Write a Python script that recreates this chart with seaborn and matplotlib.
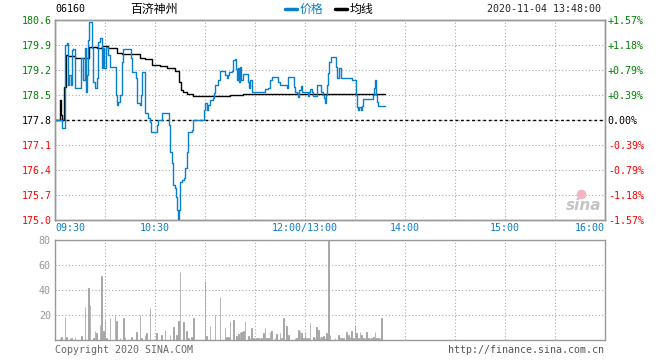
import numpy as np
import pandas as pd
import seaborn as sns
import matplotlib.pyplot as plt
from matplotlib.lines import Line2D

# ---------------- datos (minutos de negociación desde 09:30) ----------------
price_t = [0, 4.4, 6, 7, 7.6, 8, 8.6, 9.4, 10, 11, 12, 15.6, 17, 18, 18.4, 19.4, 20, 20.6,
           22, 22.6, 24, 25, 26, 27, 28, 29, 29.6, 30.4, 31.6, 33, 36.6, 37.4, 38, 39, 40,
           40.6, 45.6, 46.4, 48.6, 49, 51, 51.6, 52.4, 54, 56, 57, 57.4, 61, 61.6, 64.4,
           68.4, 69, 70, 70.6, 71, 72, 72.6, 73.4, 74, 74.4, 75, 76, 77.4, 78, 79, 79.6,
           82, 82.6, 89.4, 90, 91, 92, 93, 95, 95.4, 96, 98, 99, 102, 103, 104, 104.6, 106,
           106.6, 108, 108.6, 109.4, 110, 110.6, 111, 111.6, 112.6, 115.6, 116.6, 117, 118,
           126, 128, 129, 130, 134, 135, 139, 139.6, 143.4, 144, 145, 146, 146.6, 147.4,
           148, 151.6, 152.4, 153, 154, 155, 157, 159.4, 160.6, 161.4, 162, 162.6, 163.4,
           164, 164.6, 165.4, 168.6, 169, 170.6, 171.4, 178, 180.6, 181.4, 182, 182.6,
           183.4, 184, 185, 191, 191.6, 192.2, 192.6, 193.4, 194, 198]
price_v = [177.80, 177.58, 179.90, 179.96, 179.06, 178.78, 179.06, 178.78, 179.76, 179.79,
           178.70, 179.54, 178.92, 179.82, 178.58, 179.06, 180.04, 180.54, 179.82, 178.86,
           178.70, 178.98, 179.98, 180.10, 179.26, 179.82, 179.26, 179.84, 179.62, 179.28,
           178.50, 178.22, 178.30, 178.50, 179.42, 179.79, 179.54, 179.14, 178.98, 178.28,
           178.22, 178.50, 179.14, 178.00, 177.86, 177.75, 177.46, 177.66, 177.80, 178.00,
           177.66, 176.90, 176.60, 176.40, 175.98, 175.90, 175.64, 175.28, 175.00, 175.28,
           176.06, 176.12, 176.18, 176.46, 176.90, 177.46, 177.52, 177.80, 178.08, 178.28,
           178.08, 178.22, 178.36, 178.42, 178.56, 178.78, 178.92, 179.17, 179.06, 178.98,
           179.06, 179.14, 179.17, 179.48, 179.51, 179.23, 178.92, 179.26, 178.86, 179.28,
           178.92, 179.09, 178.86, 178.70, 178.92, 178.58, 178.67, 178.70, 178.92, 179.00,
           178.86, 178.78, 178.70, 179.00, 178.72, 178.58, 178.55, 178.44, 178.64, 178.75,
           178.58, 178.47, 178.58, 178.67, 178.58, 178.47, 178.78, 178.58, 178.50, 178.42,
           178.28, 178.50, 178.78, 179.12, 179.42, 179.56, 179.28, 178.98, 179.26, 178.98,
           178.92, 178.50, 178.16, 178.08, 178.16, 178.08, 178.19, 178.39, 178.50, 178.70,
           178.92, 178.50, 178.30, 178.19, 178.19]

avg_t = [0, 3, 3.6, 4.2, 5.6, 6.6, 8, 12, 20, 20.4, 25, 28, 32, 37, 40, 51, 54, 58, 63, 67,
         72, 74.6, 75.4, 77, 79, 83, 105, 113, 198]
avg_v = [177.80, 178.36, 177.95, 177.80, 178.72, 179.62, 179.59, 179.54, 179.54, 179.84,
         179.81, 179.87, 179.81, 179.67, 179.64, 179.53, 179.50, 179.34, 179.32, 179.26,
         179.17, 178.86, 178.64, 178.58, 178.53, 178.47, 178.50, 178.53, 178.53]

vol_t = [3, 4, 6, 7, 9, 10, 12, 16, 18, 20, 21, 23, 24, 25, 27, 28, 29, 30, 31, 33, 36, 37,
         39, 41, 42, 46, 49, 51, 52, 54, 55, 57, 61, 64, 66, 69, 71, 73, 74, 75, 77, 79, 80,
         82, 83, 90, 91, 93, 96, 99, 102, 103, 104, 105, 107, 109, 110, 111, 112, 113, 114,
         116, 117, 118, 119, 120, 121, 122, 123, 124, 125, 126, 127, 128, 129, 130, 132,
         133, 135, 136, 137, 139, 140, 144, 145, 146, 147, 148, 149, 150, 151, 152, 153,
         155, 156, 157, 158, 159, 160, 161, 162, 163, 164, 165, 168, 170, 171, 172, 173,
         175, 176, 177, 178, 179, 180, 181, 182, 183, 184, 185, 186, 187, 188, 189, 190,
         191, 192, 193, 194, 195, 196]
vol_v = [1.6, 2.7, 18.1, 2.1, 1.6, 1.6, 2.1, 3.2, 26.7, 41.3, 28, 1.6, 7.5, 5.9, 12, 51.2,
         7.5, 16, 1.6, 17.3, 20, 15.2, 1.6, 17.3, 2.1, 2.1, 6.7, 20, 1.6, 3.7, 5.9, 25.3,
         5.9, 3.7, 8, 3.7, 10.7, 4, 15.2, 54.1, 14.4, 7.2, 1.6, 2.1, 17.3, 47.5, 3.2, 11.2,
         19.7, 34.7, 9.9, 2.4, 2.4, 15.2, 16, 3.2, 4.5, 6.4, 6.1, 7.2, 15.2, 3.2, 1.9, 9.9,
         1.9, 1.9, 1.9, 1.9, 1.9, 1.9, 5.9, 9.9, 1.9, 1.9, 6.1, 7.2, 1.9, 4.5, 5.9, 1.9,
         17.9, 11.5, 4, 1.9, 1.9, 8, 7.2, 5.9, 1.9, 6.4, 1.9, 1.9, 13.9, 2.4, 1.3, 10.7, 8,
         2.7, 2.7, 3.2, 1.9, 5.3, 85, 4, 1.3, 4, 2.7, 1.9, 1.9, 6.7, 4, 2.7, 7.2, 1.9, 12,
         5.3, 1.9, 6.7, 4, 1.9, 1.9, 6.7, 1.9, 1.9, 1.9, 2.7, 6.7, 1.9, 1.9, 1.9, 17.9]

price_ticks = [175.0, 175.7, 176.4, 177.1, 177.8, 178.5, 179.2, 179.9, 180.6]
pct_labels = ['-1.57%', '-1.18%', '-0.79%', '-0.39%', '0.00%',
              '+0.39%', '+0.79%', '+1.18%', '+1.57%']
time_pos = [0, 60, 150, 210, 270, 330]
time_labels = ['09:30', '10:30', '12:00/13:00', '14:00', '15:00', '16:00']
vol_ticks = [20, 40, 60, 80]
base = 177.8

assert len(price_t) == len(price_v) and len(avg_t) == len(avg_v) and len(vol_t) == len(vol_v)

# ---------------- estilo ----------------
sns.set_style('white')
plt.rcParams['font.family'] = ['DejaVu Sans Mono', 'Noto Sans CJK SC']
blue = '#0a7fcc'
grid_c = '#aaaaaa'
fs = 7.2

W, H = 660, 360
fig = plt.figure(figsize=(W / 100, H / 100), dpi=100)
ax = fig.add_axes([55 / W, 140 / H, 550 / W, 200 / H])
axv = fig.add_axes([55 / W, 20 / H, 550 / W, 100 / H])

# ---------------- panel de precio ----------------
sns.lineplot(x=avg_t, y=avg_v, ax=ax, color='black', lw=1.0, drawstyle='steps-post',
             estimator=None, sort=False, zorder=3)
sns.lineplot(x=price_t, y=price_v, ax=ax, color=blue, lw=1.0, drawstyle='steps-post',
             estimator=None, sort=False, zorder=4)
ax.axhline(base, color='black', ls=(0, (2, 2)), lw=1.0, zorder=2)

ax.set_xlim(0, 330)
ax.set_ylim(price_ticks[0], price_ticks[-1])
ax.set_xticks(time_pos)
ax.set_xticklabels(time_labels, color=blue, fontsize=fs)
ax.set_xticks(range(30, 330, 30), minor=True)
ax.set_yticks(price_ticks)
ax.set_yticklabels([f'{p:.1f}' for p in price_ticks], fontsize=fs)
for lab, p in zip(ax.get_yticklabels(), price_ticks):
    lab.set_color('green' if p > base else ('red' if p < base else 'black'))
xl = ax.get_xticklabels()
xl[0].set_ha('left')
xl[-1].set_ha('right')
ax.tick_params(which='both', length=0, pad=2)
ax.grid(True, which='both', axis='x', ls=(0, (1, 2)), color=grid_c, lw=0.8)
ax.grid(True, which='major', axis='y', ls=(0, (1, 2)), color=grid_c, lw=0.8)
ax.set_xlabel('')
ax.set_ylabel('')

axr = ax.twinx()
axr.set_ylim(price_ticks[0], price_ticks[-1])
axr.set_yticks(price_ticks)
axr.set_yticklabels(pct_labels, fontsize=fs)
for lab, p in zip(axr.get_yticklabels(), price_ticks):
    lab.set_color('green' if p > base else ('red' if p < base else 'black'))
axr.tick_params(length=0, pad=2)

for a in (ax, axr, axv):
    for s in a.spines.values():
        s.set_color('#999999')
        s.set_linewidth(1.0)

# ---------------- panel de volumen ----------------
axv.bar(vol_t, vol_v, width=0.5, color='#999999', edgecolor='#999999', linewidth=0.5)
axv.set_xlim(0, 330)
axv.set_ylim(0, 80)
axv.set_xticks(range(30, 330, 30))
axv.set_xticklabels([])
axv.set_yticks(vol_ticks)
axv.set_yticklabels([str(v) for v in vol_ticks], color='#999999', fontsize=fs)
axv.tick_params(length=0, pad=3)
axv.grid(True, axis='both', ls=(0, (1, 2)), color=grid_c, lw=0.8)

# ---------------- textos ----------------
def fx(x):
    return x / W

def fy(y):
    return 1 - y / H

fig.text(fx(55), fy(9), '06160', fontsize=fs, va='center', color='black')
fig.text(fx(130), fy(9), '百济神州', fontsize=8.6, va='center', color='black',
         family=['Noto Sans CJK SC', 'DejaVu Sans'])
fig.add_artist(Line2D([fx(285), fx(297)], [fy(9), fy(9)], color=blue, lw=2.5,
                      transform=fig.transFigure))
fig.text(fx(300), fy(9), '价格', fontsize=8.6, va='center', color=blue,
         family=['Noto Sans CJK SC', 'DejaVu Sans'])
fig.add_artist(Line2D([fx(335), fx(347)], [fy(9), fy(9)], color='black', lw=2.5,
                      transform=fig.transFigure))
fig.text(fx(350), fy(9), '均线', fontsize=8.6, va='center', color='black',
         family=['Noto Sans CJK SC', 'DejaVu Sans'])
fig.text(fx(601), fy(9), '2020-11-04 13:48:00', fontsize=fs, va='center', ha='right')

fig.text(fx(55), fy(350), 'Copyright 2020 SINA.COM', fontsize=fs, va='center', color='#666666')
fig.text(fx(604), fy(350), 'http://finance.sina.com.cn', fontsize=fs, va='center',
         ha='right', color='#555555')

# marca de agua
fig.text(fx(584), fy(206), 'sina', fontsize=11, style='italic', weight='bold',
         color='#c4c4c4', ha='center', va='center', family='DejaVu Sans')
fig.add_artist(Line2D([fx(581)], [fy(194)], marker='o', markersize=6, color='#f3b6c0',
                      transform=fig.transFigure))

fig.savefig('out.png', dpi=100)
